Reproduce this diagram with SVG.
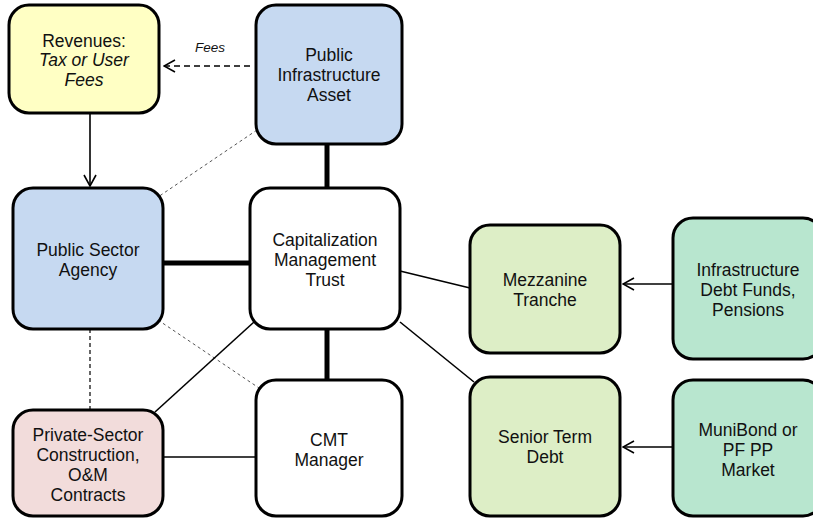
<svg xmlns="http://www.w3.org/2000/svg" width="813" height="519" viewBox="0 0 813 519">
<style>
.box{stroke:#000;stroke-width:3}
.t{font-family:"Liberation Sans",Arial,sans-serif;font-size:17.5px;fill:#111;text-anchor:middle}
.thick{stroke:#000;stroke-width:5;fill:none}
.thin{stroke:#000;stroke-width:1.6;fill:none}
.dot{stroke:#555;stroke-width:1;stroke-dasharray:3,3;fill:none}
.dash{stroke:#000;stroke-width:1.2;stroke-dasharray:4,3;fill:none}
</style>
<defs>
<marker id="arr" markerWidth="14" markerHeight="14" refX="13" refY="7" orient="auto" markerUnits="userSpaceOnUse">
<path d="M2,1 L13,7 L2,13" fill="none" stroke="#000" stroke-width="1.6"/>
</marker>
</defs>
<rect width="813" height="519" fill="#fff"/>
<g id="connectors">
<line class="thin" x1="90" y1="113" x2="90" y2="186" marker-end="url(#arr)" />
<line x1="250" y1="66" x2="164" y2="66" stroke="#000" stroke-width="1.4" stroke-dasharray="6,4" marker-end="url(#arr)"/>
<text x="210" y="52" class="t" style="font-size:13.5px;font-style:italic">Fees</text>
<line class="thick" x1="327" y1="144" x2="327" y2="188"/>
<line class="thick" x1="163" y1="263" x2="250" y2="263"/>
<line class="dot" x1="257" y1="130" x2="158" y2="197"/>
<line class="dot" x1="158" y1="320" x2="259" y2="388"/>
<line class="dash" x1="90" y1="329" x2="90" y2="410"/>
<line class="thin" x1="254" y1="322" x2="155" y2="412"/>
<line class="thick" x1="327" y1="329" x2="327" y2="380"/>
<line class="thin" x1="163" y1="457" x2="256" y2="457"/>
<line class="thin" x1="400" y1="271" x2="470" y2="288"/>
<line class="thin" x1="400" y1="322" x2="474" y2="382"/>
<line class="thin" x1="673" y1="284" x2="623" y2="284" marker-end="url(#arr)"/>
<line class="thin" x1="673" y1="447" x2="623" y2="447" marker-end="url(#arr)"/>
</g>
<g id="revenues">
<rect class="box" x="9" y="5" width="150" height="108" rx="20" fill="#FFFFC4"/>
<text class="t" x="84" y="47">Revenues:</text>
<text class="t" x="84" y="66" font-style="italic">Tax or User</text>
<text class="t" x="84" y="86" font-style="italic">Fees</text>
</g>
<g id="public-infrastructure-asset">
<rect class="box" x="256" y="5" width="146" height="139" rx="20" fill="#C6D9F1"/>
<text class="t" x="329" y="61">Public</text>
<text class="t" x="329" y="81">Infrastructure</text>
<text class="t" x="329" y="101">Asset</text>
</g>
<g id="public-sector-agency">
<rect class="box" x="13" y="188" width="150" height="141" rx="20" fill="#C6D9F1"/>
<text class="t" x="88" y="256">Public Sector</text>
<text class="t" x="88" y="276">Agency</text>
</g>
<g id="cmt">
<rect class="box" x="250" y="188" width="150" height="141" rx="20" fill="#fff"/>
<text class="t" x="325" y="246">Capitalization</text>
<text class="t" x="325" y="266">Management</text>
<text class="t" x="325" y="286">Trust</text>
</g>
<g id="private-sector">
<rect class="box" x="13" y="410" width="150" height="106" rx="20" fill="#F2DCDB"/>
<text class="t" x="88" y="441">Private-Sector</text>
<text class="t" x="88" y="461">Construction,</text>
<text class="t" x="88" y="481">O&amp;M</text>
<text class="t" x="88" y="501">Contracts</text>
</g>
<g id="cmt-manager">
<rect class="box" x="256" y="380" width="146" height="136" rx="20" fill="#fff"/>
<text class="t" x="329" y="446">CMT</text>
<text class="t" x="329" y="466">Manager</text>
</g>
<g id="mezzanine">
<rect class="box" x="470" y="225" width="150" height="128" rx="20" fill="#DDEEC6"/>
<text class="t" x="545" y="286">Mezzanine</text>
<text class="t" x="545" y="306">Tranche</text>
</g>
<g id="infra-debt-funds">
<rect class="box" x="673" y="218" width="150" height="141" rx="20" fill="#B8E6CF"/>
<text class="t" x="748" y="276">Infrastructure</text>
<text class="t" x="748" y="296">Debt Funds,</text>
<text class="t" x="748" y="316">Pensions</text>
</g>
<g id="senior-term-debt">
<rect class="box" x="470" y="377" width="150" height="139" rx="20" fill="#DDEEC6"/>
<text class="t" x="545" y="443">Senior Term</text>
<text class="t" x="545" y="463">Debt</text>
</g>
<g id="munibond">
<rect class="box" x="673" y="380" width="150" height="136" rx="20" fill="#B8E6CF"/>
<text class="t" x="748" y="436">MuniBond or</text>
<text class="t" x="748" y="456">PF PP</text>
<text class="t" x="748" y="476">Market</text>
</g>
</svg>
